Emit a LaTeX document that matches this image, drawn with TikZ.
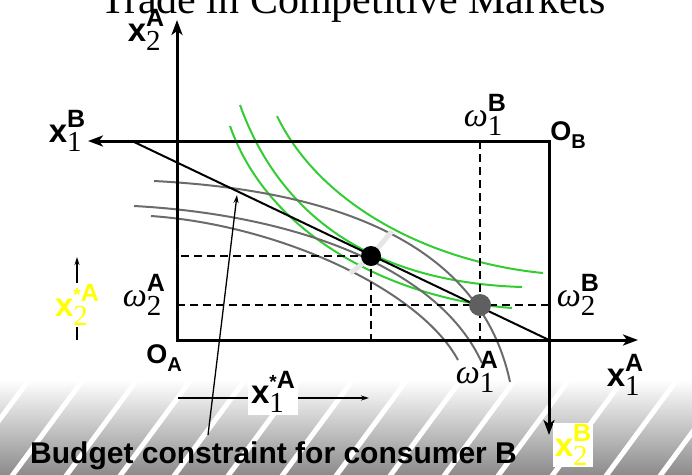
\documentclass[tikz,border=0pt]{standalone}
\usepackage{fontspec}
\setmainfont{Liberation Serif}
\setsansfont{Liberation Sans}
\usetikzlibrary{arrows.meta}
\definecolor{CurveGreen}{HTML}{33CC33}
\definecolor{CurveGray}{HTML}{6B6B6B}
\definecolor{DotGray}{HTML}{5F5F5F}
\definecolor{Glow}{HTML}{E6E6E6}
\definecolor{LabelYellow}{HTML}{FFFF00}

\newcommand{\bx}{{\fontsize{33}{33}\selectfont\sffamily\bfseries x}}
\newcommand{\om}{{\fontsize{34}{34}\selectfont\itshape ω}}
\newcommand{\sbsp}[2]{\rlap{\raisebox{-0.28em}{\fontsize{29}{29}\selectfont\rmfamily\mdseries #1}}\raisebox{0.5em}{\fontsize{25}{25}\selectfont\sffamily\bfseries #2}}
\newcommand{\orig}[1]{\textsf{\bfseries O\raisebox{-0.3em}{\fontsize{20}{20}\selectfont #1}}}
\newcommand{\str}{{\fontsize{19}{19}\selectfont *}}

\begin{document}
\begin{tikzpicture}[x=1pt, y=-1pt,
    font=\fontsize{30}{30}\selectfont,
    lbl/.style={inner sep=0pt},
    ylbl/.style={inner sep=2pt, fill=white, text=LabelYellow},
    axis/.style={line width=3pt, line join=miter, {Stealth[length=15pt,width=11pt,inset=4pt]}-{Stealth[length=15pt,width=11pt,inset=4pt]}},
    guide/.style={line width=1.8pt, dash pattern=on 8pt off 5pt},
    budget/.style={line width=2pt},
    indA/.style={line width=2pt, draw=CurveGreen},
    indB/.style={line width=2pt, draw=CurveGray},
    glow/.style={line width=5pt, draw=Glow},
    pointer/.style={line width=1.3pt, -{Stealth[length=8pt,width=5pt]}},
    stripe/.style={line width=5pt, draw=white}
]
\useasboundingbox (0,0) rectangle (692,474);
\clip (0,0) rectangle (692,474);

% shaded floor with stripes
\begin{scope}
\clip (0,380) rectangle (692,474);
\shade[top color=white, bottom color=black!45] (0,380) rectangle (692,474);
\foreach \s in {-45,9,...,711}
  \draw[stripe] (\s,480) -- ++(79,-107);
\end{scope}

\node[anchor=base, font=\fontsize{42}{42}\selectfont] (title) at (353,13) {Trade in Competitive Markets};

% origins and axis ends
\coordinate (OA) at (177,340);
\coordinate (OB) at (549,141);
\coordinate (corner) at (549,340);
\coordinate (x2Atip) at (177,20);
\coordinate (x1Atip) at (638,340);
\coordinate (x1Btip) at (88,141);
\coordinate (x2Btip) at (549,435);
\coordinate (bstart) at (132,141);

% indifference curves of A
\draw[indA] (230,126) .. controls (270,240) and (400,300) .. (512,308);
\draw[indA] (240,105) .. controls (285,230) and (390,283) .. (522,287);
\draw[indA] (277,116) .. controls (320,205) and (430,262) .. (543,273);
% indifference curves of B
\draw[indB] (154,181) .. controls (330,190) and (480,240) .. (510,382);
\draw[indB] (134,206) .. controls (300,215) and (440,270) .. (482,363);
\draw[indB] (151,216) .. controls (280,225) and (420,290) .. (458,360);

\draw[glow] (392,231) .. controls (378,248) and (366,263) .. (350,273);

\coordinate (opt) at (371,256);
\coordinate (endow) at (480,305);

\draw[guide] (opt) -- (opt -| OA);
\draw[guide] (opt) -- (opt |- OA);
\draw[guide] (endow -| OA) -- (endow -| OB);
\draw[guide] (endow |- OB) -- (endow |- OA);

\draw[axis] (x2Atip) -- (OA) -- (x1Atip);
\draw[axis] (x1Btip) -- (OB) -- (x2Btip);
\draw[budget] (bstart) -- (corner);

\node[circle, fill=black, minimum size=20pt, inner sep=0pt] (optdot) at (opt) {};
\node[circle, fill=DotGray, minimum size=22pt, inner sep=0pt] (endowdot) at (endow) {};

% labels
\node[lbl] (x2A) at (146,30) {\bx\sbsp{2}{A}};
\node[lbl] (x1B) at (67,131) {\bx\sbsp{1}{B}};
\node[lbl] (w1B) at (485,115) {\om\sbsp{1}{B}};
\node[lbl] (OBlbl) at (568,135) {\fontsize{27}{27}\selectfont\orig{B}};
\node[lbl] (w2A) at (144,295) {\om\sbsp{2}{A}};
\node[lbl] (w2B) at (578,295) {\om\sbsp{2}{B}};
\node[lbl] (OAlbl) at (164,358) {\fontsize{27}{27}\selectfont\orig{A}};
\node[lbl] (w1A) at (477,372) {\om\sbsp{1}{A}};
\node[lbl] (x1A) at (625,375) {\bx\sbsp{1}{A}};

% demanded quantities of A
\coordinate (dx1from) at (178,398);
\coordinate (dx1to) at (369,398);
\draw[pointer] (dx1from) -- (dx1to);
\node[inner sep=3pt, fill=white] (x1star) at (273,392) {\bx\sbsp{1}{\str A}};
\coordinate (dx2from) at (77,340);
\coordinate (dx2to) at (77,257);
\draw[pointer] (dx2from) -- (dx2to);
\node[ylbl] (x2star) at (77,305) {\bx\sbsp{2}{\str A}};
\node[ylbl] (x2B) at (573,445) {\bx\sbsp{2}{B}};

% budget line note
\node[anchor=base west, inner sep=0pt, font=\fontsize{30}{30}\selectfont\sffamily\bfseries] (note) at (30,463) {Budget constraint for consumer B};
\coordinate (ptrfoot) at (208,435);
\coordinate (ptrtip) at (237,195);
\draw[pointer] (ptrfoot) -- (ptrtip);
\end{tikzpicture}
\end{document}
